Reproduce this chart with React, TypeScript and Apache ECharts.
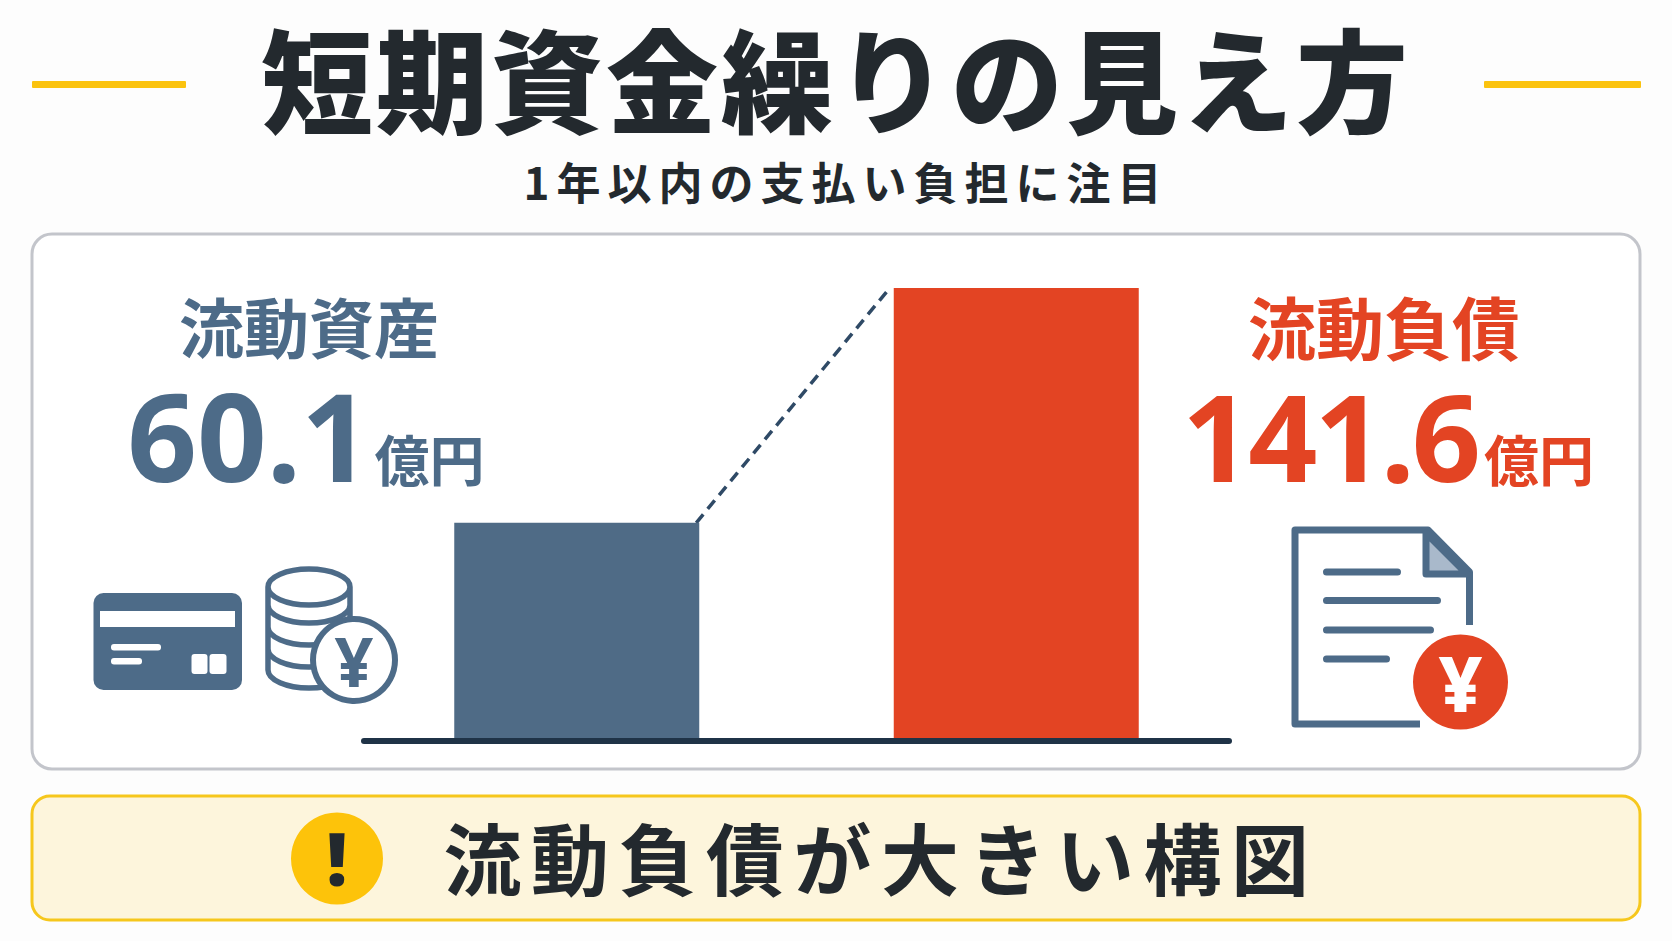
import React, { useEffect, useRef } from "react";
import * as echarts from "echarts";

const categories = ["流動資産", "流動負債"];
const values = [60.1, 141.6];
const unit = "億円";
const titleText = "短期資金繰りの見え方";
const subtitleText = "1年以内の支払い負担に注目";
const bannerText = "流動負債が大きい構図";
const barColors = ["#4f6b86", "#e34423"];

const BLUE = "#4d6b88";
const RED = "#e34423";
const DARK = "#23292e";
const YELLOW = "#fbc30f";
const CJK = '"Noto Sans CJK JP", "Noto Sans", sans-serif';
const NUM = '"Noto Sans", "Noto Sans CJK JP", sans-serif';

const COINS =
  "M268,587 A41,18 0 1,1 350,587 A41,18 0 1,1 268,587 Z " +
  "M268,587 V670 A41,18 0 0,0 350,670 " +
  "M268,605 A41,18 0 0,0 350,605 " +
  "M268,627 A41,18 0 0,0 350,627 " +
  "M268,649 A41,18 0 0,0 350,649 " +
  "M350,587 V625";
echarts.graphic.registerShape("coinStack", echarts.graphic.extendPath(COINS, {}));

const txt = (text: string, x: number, y: number, size: number, fill: string, weight: any = 700, align = "center", family = CJK, z = 5) => ({
  type: "text",
  z,
  style: { text, x, y, fill, align, verticalAlign: "middle", font: `${weight} ${size}px ${family}` },
});
const box = (x: number, y: number, width: number, height: number, r: number, fill: string, z = 4, stroke?: string, lineWidth = 0) => ({
  type: "rect",
  z,
  shape: { x, y, width, height, r },
  style: { fill, stroke, lineWidth },
});

export default function App() {
  const ref = useRef<HTMLDivElement>(null);
  useEffect(() => {
    document.body.style.margin = "0";
    document.body.style.background = "#fdfdfd";
    const chart = echarts.init(ref.current!, null, { renderer: "svg" });
    const graphic: any[] = [
      box(32, 81, 154, 7, 1, YELLOW),
      box(1484, 81, 157, 7, 1, YELLOW),
      txt(titleText, 836, 76, 112, DARK, 900),
      txt(subtitleText, 846, 181, 44, DARK, 700),
      box(32, 234, 1608, 535, 20, "#ffffff", 0, "#c3c5cb", 3),
      box(32, 796, 1608, 124, 18, "#fdf5dc", 0, "#f6c71c", 3),
      txt(categories[0], 309, 325, 65, BLUE, 700),
      txt(String(values[0]), 249, 435, 122, BLUE, 700, "center", NUM),
      txt(unit, 429.5, 457, 55, BLUE, 700),
      txt(categories[1], 1384, 325, 68, RED, 700),
      txt(String(values[1]), 1330, 435, 121, RED, 700, "center", NUM),
      txt(unit, 1539, 457, 55, RED, 700),
      // baseline
      box(361, 738, 871, 6, 3, "#1f3347", 6),
      // credit card
      box(93.5, 593, 148.5, 97, 10, BLUE),
      box(100, 611, 135, 16, 0, "#ffffff", 5),
      box(111, 644, 50, 6.5, 3, "#ffffff", 5),
      box(111, 658, 31, 6.5, 3, "#ffffff", 5),
      box(191.5, 654, 16, 20, 3, "#ffffff", 5),
      box(209.5, 654, 17, 20, 3, "#ffffff", 5),
      // coins
      { type: "coinStack", z: 4, style: { fill: "none", stroke: BLUE, lineWidth: 5.5 } },
      { type: "circle", z: 5, shape: { cx: 354, cy: 660, r: 41 }, style: { fill: "#ffffff", stroke: BLUE, lineWidth: 6 } },
      txt("¥", 354, 660, 68, BLUE, 700, "center", NUM, 6),
      // document
      { type: "polyline", z: 4, shape: { points: [[1469.5, 625], [1469.5, 572], [1428, 530], [1295, 530], [1295, 724], [1420, 724]] }, style: { fill: "none", stroke: BLUE, lineWidth: 7, lineJoin: "round" } },
      { type: "polygon", z: 4, shape: { points: [[1426, 533], [1426, 574], [1467, 574]] }, style: { fill: "#a9b9cb", stroke: BLUE, lineWidth: 7, lineJoin: "round" } },
      box(1323, 568.5, 78, 7, 3.5, BLUE),
      box(1323, 597, 118, 7, 3.5, BLUE),
      box(1323, 626.5, 111, 7, 3.5, BLUE),
      box(1323, 655.5, 67, 7, 3.5, BLUE),
      { type: "circle", z: 5, shape: { cx: 1460.5, cy: 682, r: 47.5 }, style: { fill: RED } },
      txt("¥", 1460.5, 682, 76, "#ffffff", 800, "center", NUM, 6),
      // banner
      { type: "circle", z: 5, shape: { cx: 337, cy: 858.5, r: 46 }, style: { fill: "#fdc30a" } },
      txt("!", 337, 858, 72, DARK, 900, "center", NUM, 6),
      txt(bannerText, 881, 856, 78, DARK, 700),
    ];

    const option: any = {
      animation: false,
      backgroundColor: "transparent",
      grid: { left: 357, width: 879, top: 288, height: 451, containLabel: false },
      xAxis: {
        type: "category",
        data: categories,
        axisLine: { show: false },
        axisTick: { show: false },
        axisLabel: { show: false },
      },
      yAxis: { type: "log", min: 27.3, max: values[1], show: false, splitLine: { show: false } },
      graphic,
      series: [
        {
          type: "bar",
          barWidth: 245,
          z: 3,
          data: values.map((value, i) => ({ value, itemStyle: { color: barColors[i] } })),
        },
        {
          type: "custom",
          z: 3,
          clip: false,
          silent: true,
          data: values.map((v, i) => [i, v]),
          encode: { x: 0, y: 1 },
          renderItem: (params: any, api: any) => {
            if (params.dataIndex !== 0) return null;
            const half = 245 / 2;
            const a = api.coord([0, values[0]]);
            const b = api.coord([1, values[1]]);
            return {
              type: "line",
              shape: { x1: a[0] + half - 3, y1: a[1], x2: b[0] - half - 4, y2: b[1] },
              style: { stroke: "#2f4a66", lineWidth: 3.5, lineDash: [11, 7], fill: "none" },
            };
          },
        },
      ],
    };
    chart.setOption(option);
    return () => chart.dispose();
  }, []);
  return (
    <>
      <style>{`
        text[style*="112px"]{letter-spacing:3px}
        text[style*="44px"]{letter-spacing:7px}
        text[style*="78px"]{letter-spacing:9.5px}
        text[style*="121px"]{letter-spacing:-3px}
      `}</style>
      <div ref={ref} style={{ width: 1672, height: 941 }} />
    </>
  );
}
